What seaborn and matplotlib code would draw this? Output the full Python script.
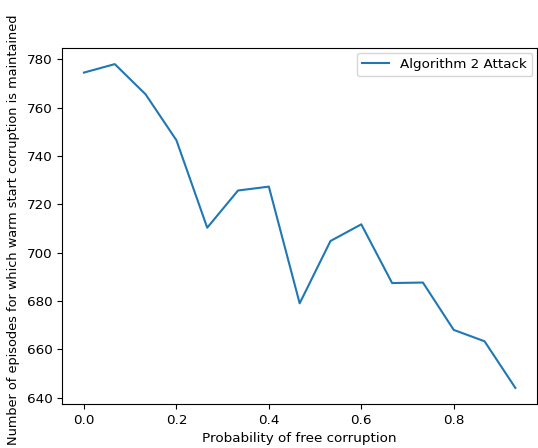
import numpy as np
import pandas as pd
import seaborn as sns
import matplotlib
matplotlib.use("Agg")
import matplotlib.pyplot as plt

# probabilidad de corrupcion libre (0, 1/15, ..., 14/15)
prob = [i / 15 for i in range(15)]
episodes = [774.5, 778.0, 765.5, 746.5, 710.3, 725.7, 727.3, 679.0,
            704.8, 711.7, 687.4, 687.6, 668.0, 663.3, 644.0]

df = pd.DataFrame({"prob": prob, "episodes": episodes})

plt.rcParams["font.size"] = 9.7

fig, ax = plt.subplots(figsize=(5.38, 4.48), dpi=100)
sns.lineplot(data=df, x="prob", y="episodes", ax=ax, label="Algorithm 2 Attack", color="#1f77b4")
ax.set_xlabel("Probability of free corruption")
ax.set_ylabel("Number of episodes for which warm start corruption is maintained", fontsize=9.3)
ax.yaxis.set_label_coords(-0.09, 0.49)
ax.legend(loc="upper right", borderaxespad=0.35)
plt.subplots_adjust(left=0.116, right=0.998, top=0.893, bottom=0.098)
plt.savefig("out.png", dpi=100)
